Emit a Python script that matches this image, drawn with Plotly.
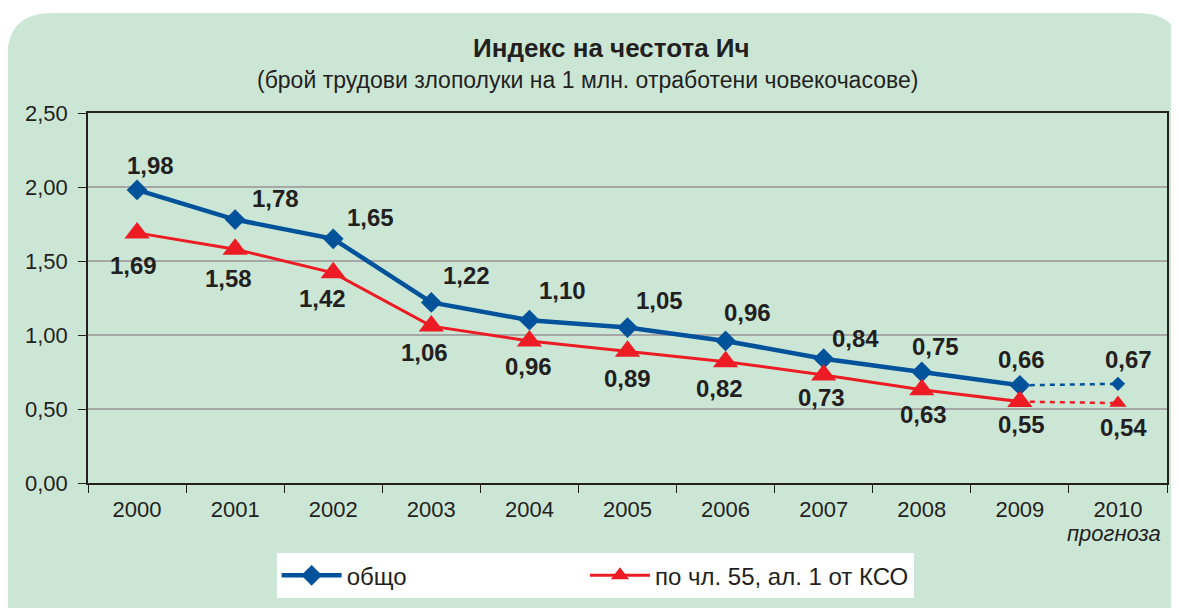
import plotly.graph_objects as go

years = ["2000", "2001", "2002", "2003", "2004", "2005", "2006", "2007", "2008", "2009", "2010"]
total = [1.98, 1.78, 1.65, 1.22, 1.10, 1.05, 0.96, 0.84, 0.75, 0.66, 0.67]
art55 = [1.69, 1.58, 1.42, 1.06, 0.96, 0.89, 0.82, 0.73, 0.63, 0.55, 0.54]
yticks = [0, 0.5, 1.0, 1.5, 2.0, 2.5]
name_total = "общо"
name_art55 = "по чл. 55, ал. 1 от КСО"
title = "<b>Индекс на честота Ич</b>"
subtitle = "(брой трудови злополуки на 1 млн. отработени човекочасове)"
forecast_note = "прогноза"

BLUE = "#00529b"
RED = "#ed1c24"
GREEN = "#cce6d6"
TXT = "#231f20"
FONT = "Liberation Sans, Arial, sans-serif"

OFF = 8  # page body margin
W, H = 1179 - OFF, 608 - OFF
L, R, T, B = 88 - OFF, 1169 - OFF, 113 - OFF, 487 - OFF


def px(x):
    return (x - OFF - L) / (R - L)


def py(y):
    return (B - (y - OFF)) / (B - T)


def lbl(v):
    return f"{v:.2f}".replace(".", ",")


NBSP = "\u00a0"

fig = go.Figure()

# solid parts 2000-2009
fig.add_trace(go.Scatter(x=years[:10], y=total[:10], mode="lines+markers",
                         name=name_total + NBSP * 26,
                         line=dict(color=BLUE, width=4.5),
                         marker=dict(symbol="diamond", size=16, color=BLUE)))
fig.add_trace(go.Scatter(x=years[:10], y=art55[:10], mode="lines+markers", name=name_art55,
                         line=dict(color=RED, width=3),
                         marker=dict(symbol="triangle-up", size=22, color=RED)))
# forecast parts 2009-2010
fig.add_trace(go.Scatter(x=years[9:], y=total[9:], mode="lines", showlegend=False,
                         line=dict(color=BLUE, width=2.5, dash="5px,5px")))
fig.add_trace(go.Scatter(x=years[9:], y=art55[9:], mode="lines", showlegend=False,
                         line=dict(color=RED, width=2.5, dash="5px,5px")))
fig.add_trace(go.Scatter(x=years[10:], y=total[10:], mode="markers", showlegend=False,
                         marker=dict(symbol="diamond", size=11, color=BLUE)))
fig.add_trace(go.Scatter(x=years[10:], y=art55[10:], mode="markers", showlegend=False,
                         marker=dict(symbol="triangle-up", size=15, color=RED)))

# data labels
blue_dx = [13, 40, 37, 35, 33, 32, 22, 32, 14, 2, 11]
blue_dy = [24, 21, 21, 27, 30, 27, 28, 20, 26, 26, 24]
red_dx = [-4, -7, -11, -7, -1, 0, -6, -2, 2, 2, 6]
red_dy = [-33, -29, -26, -26, -26, -27, -27, -23, -25, -23, -24]
ann = []
for i in range(len(years)):
    ann.append(dict(x=i, y=total[i], xref="x", yref="y", text=f"<b>{lbl(total[i])}</b>",
                    showarrow=False, xshift=blue_dx[i], yshift=blue_dy[i],
                    xanchor="center", yanchor="middle",
                    font=dict(size=24, color=TXT, family=FONT)))
    ann.append(dict(x=i, y=art55[i], xref="x", yref="y", text=f"<b>{lbl(art55[i])}</b>",
                    showarrow=False, xshift=red_dx[i], yshift=red_dy[i],
                    xanchor="center", yanchor="middle",
                    font=dict(size=24, color=TXT, family=FONT)))

ann.append(dict(x=px(612), y=py(47), xref="paper", yref="paper", text=title, showarrow=False,
                xanchor="center", yanchor="middle",
                font=dict(size=26, color=TXT, family=FONT)))
ann.append(dict(x=px(588), y=py(80), xref="paper", yref="paper", text=subtitle, showarrow=False,
                xanchor="center", yanchor="middle",
                font=dict(size=23, color=TXT, family=FONT)))
ann.append(dict(x=px(1116), y=py(538), xref="paper", yref="paper", text=f"<i>{forecast_note}</i>",
                showarrow=False, xanchor="center", yanchor="middle",
                font=dict(size=22, color=TXT, family=FONT)))

# rounded green panel
x0, x1, y0, y1, r = 7, 1184, 12, 640, 45
path = (f"M {px(x0)},{py(y1)} L {px(x0)},{py(y0 + r)} Q {px(x0)},{py(y0)} {px(x0 + r)},{py(y0)} "
        f"L {px(x1 - r)},{py(y0)} Q {px(x1)},{py(y0)} {px(x1)},{py(y0 + r)} L {px(x1)},{py(y1)} Z")
shapes = [dict(type="path", path=path, xref="paper", yref="paper", fillcolor=GREEN,
               line=dict(width=0), layer="below")]

fig.update_layout(
    width=W, height=H,
    margin=dict(l=L, r=W - R, t=T, b=H - B),
    paper_bgcolor="white", plot_bgcolor="white",
    separators=",.",
    font=dict(family=FONT, color=TXT, size=22),
    annotations=ann, shapes=shapes,
    showlegend=True,
    legend=dict(orientation="h", x=px(277), y=py(558), xanchor="left", yanchor="top",
                bgcolor="white", borderwidth=0, font=dict(size=24, color=TXT, family=FONT),
                traceorder="normal", itemwidth=60),
)
fig.update_xaxes(type="category", range=[-0.5, 10.5], tickson="boundaries",
                 ticks="outside", ticklen=8, tickcolor="#231f20", showline=True,
                 linecolor="#231f20", linewidth=1.5, mirror=True, showgrid=False,
                 tickfont=dict(size=22, color=TXT), ticklabelstandoff=6)
fig.update_yaxes(range=[0, 2.5], tickvals=yticks, tickformat=".2f", ticks="outside", ticklen=8,
                 tickcolor="#231f20", showline=True, linecolor="#231f20", linewidth=1.5,
                 mirror=True, showgrid=True, gridcolor="#a6a6a6", gridwidth=1.5,
                 zeroline=False, tickfont=dict(size=22, color=TXT), ticklabelstandoff=6)

fig.write_html("out.html")
